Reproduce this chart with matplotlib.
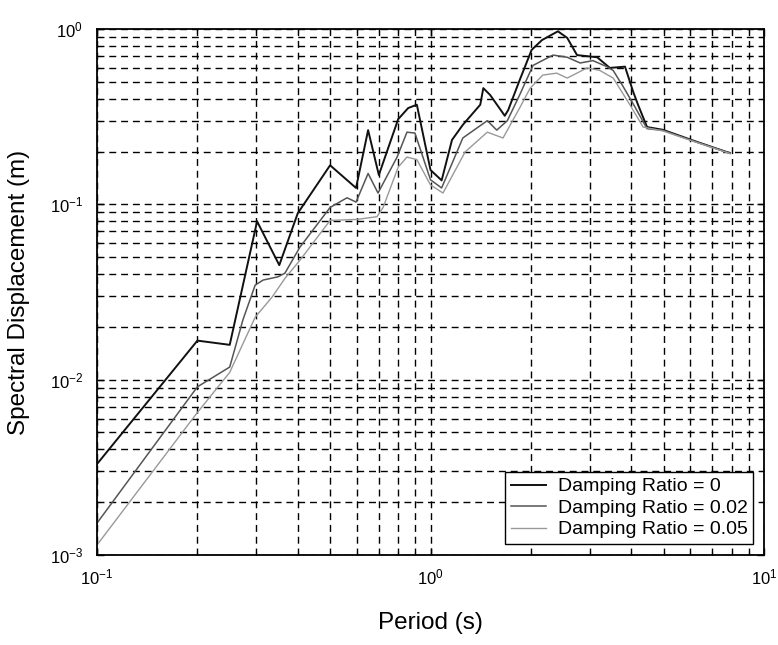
import matplotlib
matplotlib.use("Agg")
import matplotlib.pyplot as plt
from matplotlib.ticker import LogLocator, NullFormatter

plt.rcParams['font.family'] = ['Liberation Sans', 'DejaVu Sans']
plt.rcParams['mathtext.fontset'] = 'custom'
plt.rcParams['mathtext.rm'] = 'Liberation Sans'
plt.rcParams['mathtext.it'] = 'Liberation Sans'

# Damping ratio = 0
period_0 = [0.10, 0.20, 0.25, 0.302, 0.352, 0.40, 0.50, 0.598, 0.65, 0.70, 0.80,
            0.857, 0.91, 1.00, 1.08, 1.16, 1.25, 1.41, 1.44, 1.51, 1.67, 1.71,
            1.85, 2.01, 2.16, 2.41, 2.57, 2.75, 3.16, 3.45, 3.83, 4.05, 4.19,
            4.46, 4.98, 6.3, 7.9]
sd_0 = [0.0033, 0.0167, 0.0158, 0.080, 0.045, 0.089, 0.167, 0.124, 0.265, 0.147,
        0.306, 0.354, 0.37, 0.157, 0.137, 0.233, 0.284, 0.37, 0.46, 0.42, 0.32,
        0.345, 0.51, 0.76, 0.865, 0.97, 0.89, 0.71, 0.69, 0.60, 0.61, 0.44, 0.37,
        0.276, 0.266, 0.227, 0.196]

# Damping ratio = 0.02
period_2 = [0.10, 0.20, 0.25, 0.274, 0.298, 0.315, 0.349, 0.366, 0.406, 0.50,
            0.562, 0.598, 0.65, 0.696, 0.794, 0.85, 0.898, 1.00, 1.08, 1.25,
            1.48, 1.58, 1.70, 1.85, 2.03, 2.33, 2.57, 2.81, 3.07, 3.38, 3.53,
            3.78, 4.10, 4.46, 4.98, 6.3, 7.9]
sd_2 = [0.00152, 0.0091, 0.0118, 0.022, 0.0346, 0.037, 0.0386, 0.0405, 0.057,
        0.096, 0.109, 0.103, 0.150, 0.116, 0.186, 0.258, 0.255, 0.138, 0.124,
        0.239, 0.30, 0.265, 0.30, 0.42, 0.62, 0.71, 0.69, 0.64, 0.66, 0.61,
        0.58, 0.47, 0.36, 0.27, 0.264, 0.226, 0.196]

# Damping ratio = 0.05
period_5 = [0.10, 0.20, 0.25, 0.298, 0.335, 0.366, 0.406, 0.50, 0.602, 0.691,
            0.721, 0.80, 0.85, 0.91, 1.00, 1.09, 1.27, 1.48, 1.65, 1.85, 1.99,
            2.17, 2.39, 2.57, 2.95, 3.22, 3.53, 3.96, 4.34, 4.98, 6.3, 7.9]
sd_5 = [0.00114, 0.0065, 0.011, 0.0227, 0.0296, 0.0378, 0.048, 0.081, 0.082,
        0.085, 0.096, 0.163, 0.186, 0.18, 0.129, 0.116, 0.199, 0.258, 0.239,
        0.354, 0.46, 0.546, 0.56, 0.525, 0.60, 0.58, 0.525, 0.37, 0.276, 0.262,
        0.225, 0.195]

labels = ['Damping Ratio = 0', 'Damping Ratio = 0.02', 'Damping Ratio = 0.05']

fig = plt.figure(figsize=(7.78, 6.45), dpi=100)
ax = fig.add_axes([97/778, 1-555/645, (764-97)/778, (555-29)/645])

ax.plot(period_0, sd_0, color='#111111', lw=1.4, label=labels[0])
ax.plot(period_2, sd_2, color='#555555', lw=1.1, label=labels[1])
ax.plot(period_5, sd_5, color='#999999', lw=1.0, label=labels[2])

ax.set_xscale('log')
ax.set_yscale('log')
ax.set_xlim(0.1, 10)
ax.set_ylim(1e-3, 1)

ax.xaxis.set_major_locator(LogLocator(base=10, numticks=10))
ax.xaxis.set_minor_locator(LogLocator(base=10, subs=range(2, 10), numticks=20))
ax.yaxis.set_major_locator(LogLocator(base=10, numticks=10))
ax.yaxis.set_minor_locator(LogLocator(base=10, subs=range(2, 10), numticks=20))
ax.xaxis.set_minor_formatter(NullFormatter())
ax.yaxis.set_minor_formatter(NullFormatter())

ax.grid(True, which='both', color='black', linestyle=(0, (5, 3.5)), linewidth=1.0)
ax.tick_params(which='both', direction='in', top=True, right=True, labelsize=12,
               color='black')
ax.tick_params(which='major', length=5, width=1)
ax.tick_params(which='minor', length=3, width=0.8)
ax.tick_params(axis='x', pad=9)
ax.tick_params(axis='y', pad=10)
for s in ax.spines.values():
    s.set_linewidth(1.3)
    s.set_color('black')

ax.set_xlabel('Period (s)', fontsize=17.5, labelpad=18)
ax.set_ylabel('Spectral Displacement (m)', fontsize=17.5, labelpad=14)

leg = ax.legend(loc='lower right', fontsize=14, fancybox=False, framealpha=1,
                edgecolor='black', borderaxespad=0.55, handlelength=1.8,
                handletextpad=0.6, labelspacing=0.2, borderpad=0.3)
leg.get_frame().set_linewidth(1.0)

fig.savefig('out.png', dpi=100)
